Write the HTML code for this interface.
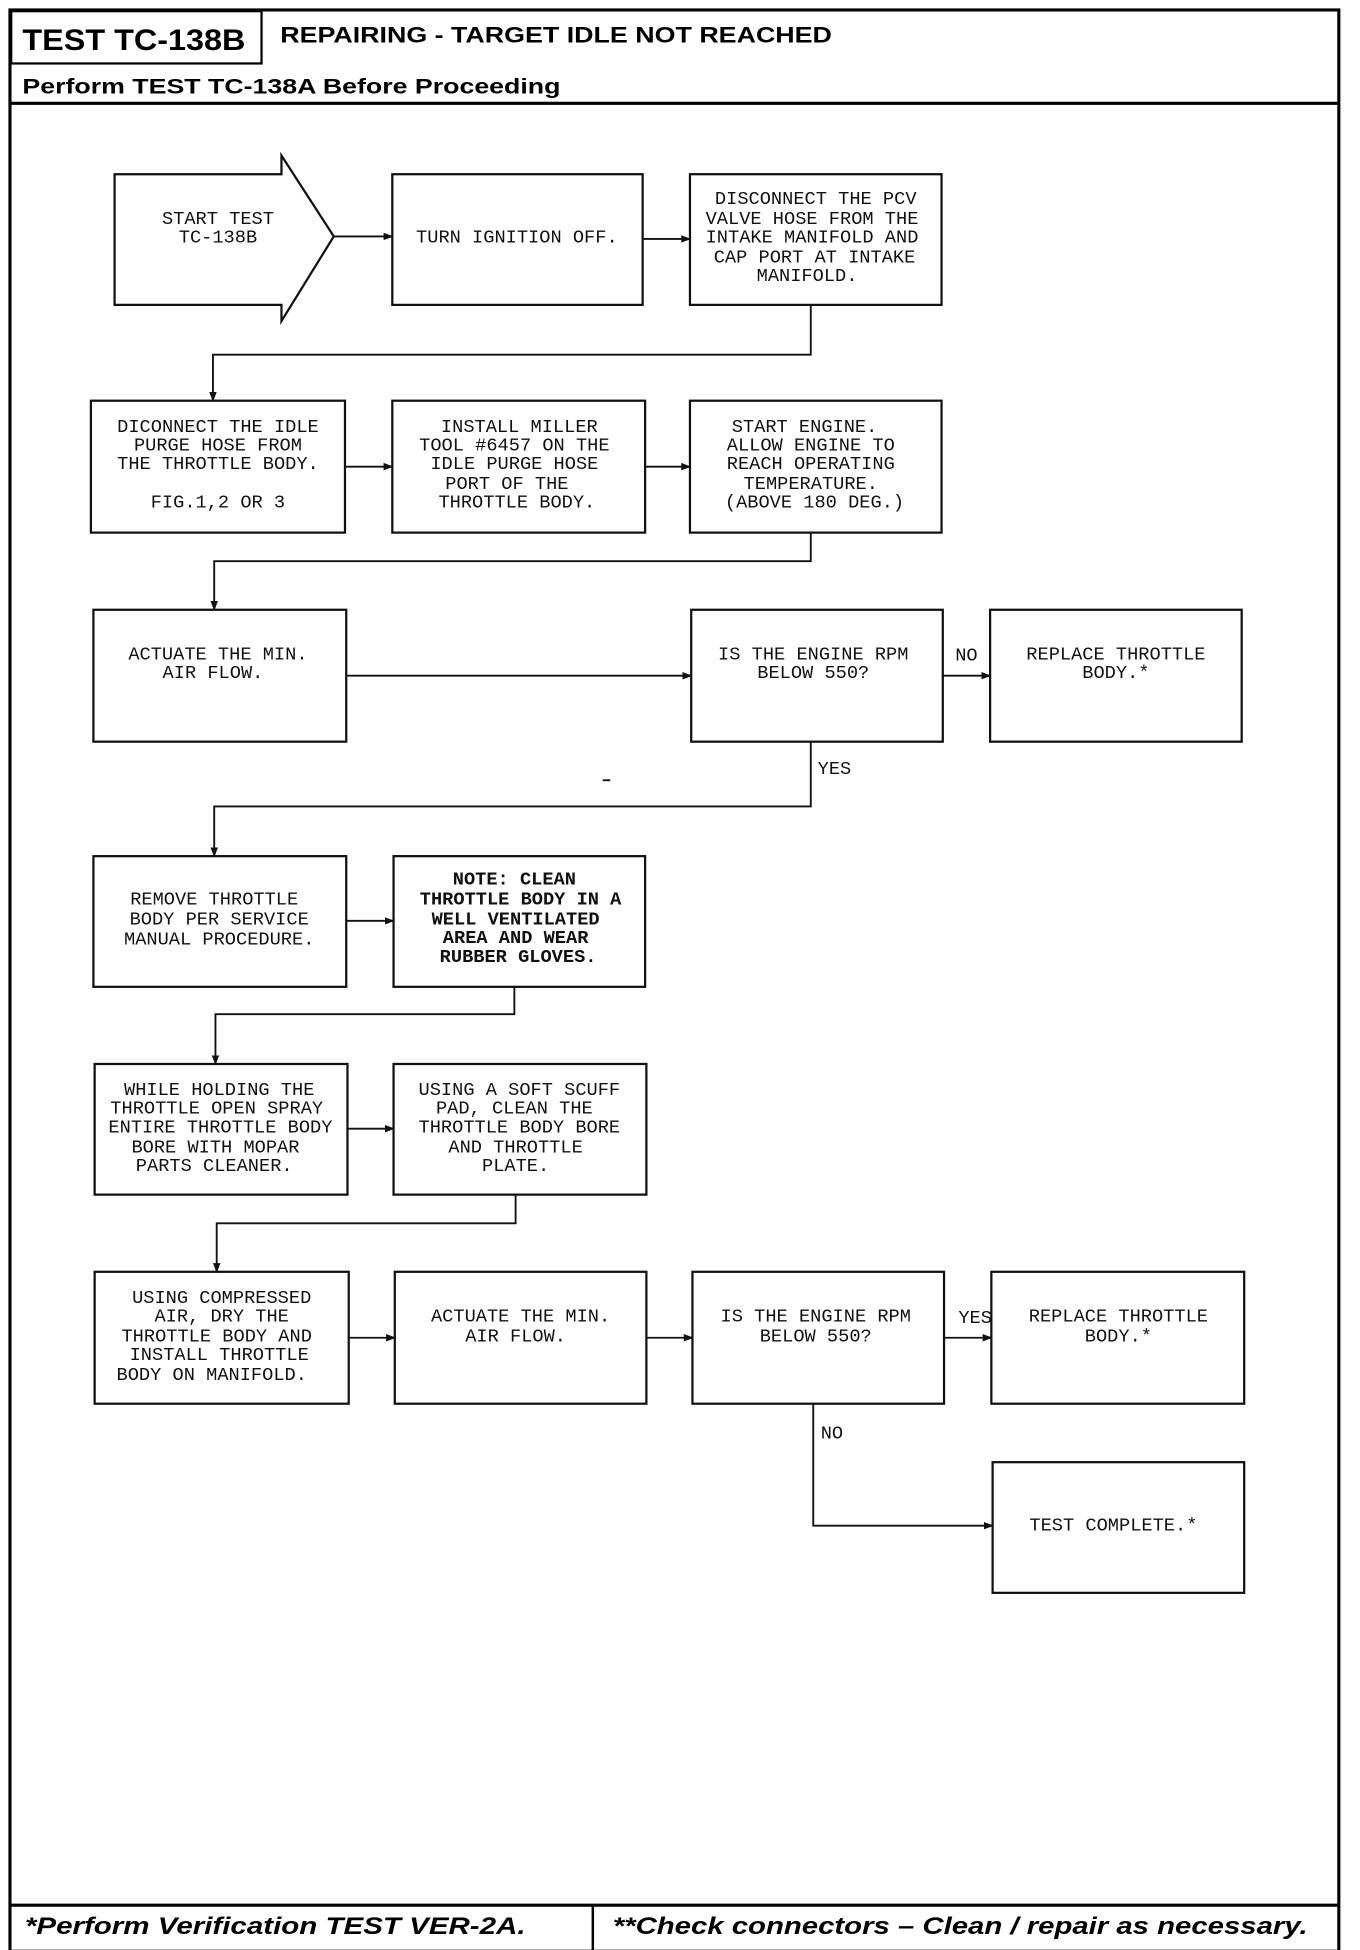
<!DOCTYPE html>
<html><head><meta charset="utf-8"><style>
html,body{margin:0;padding:0;background:#fff;}
svg{display:block;}
.t{font-family:"Liberation Mono",monospace;font-size:15px;fill:#111;text-anchor:middle;dominant-baseline:middle;}
.b{fill:none;stroke:#111;stroke-width:1.8;}
.l{fill:none;stroke:#111;stroke-width:1.5;}
.h{font-family:"Liberation Sans",sans-serif;font-weight:bold;fill:#000;}
</style></head><body>
<svg width="1360" height="1950" viewBox="0 0 1092 1567" preserveAspectRatio="none" xmlns="http://www.w3.org/2000/svg">
<defs><marker id="a" markerWidth="8" markerHeight="8" refX="7" refY="4" orient="auto" markerUnits="userSpaceOnUse"><path d="M0,1 L8,4 L0,7 z" fill="#111"/></marker></defs>
<rect x="8" y="8" width="1067" height="1560" fill="none" stroke="#000" stroke-width="2.5"/>
<rect x="9" y="9" width="201" height="42" fill="none" stroke="#000" stroke-width="1.8"/>
<line x1="8" y1="83" x2="1075" y2="83" stroke="#000" stroke-width="2.5"/>
<line x1="8" y1="1531" x2="1075" y2="1531" stroke="#000" stroke-width="2.5"/>
<line x1="476" y1="1531" x2="476" y2="1568" stroke="#000" stroke-width="2"/>
<text class="h" x="18" y="40" font-size="24" textLength="179" lengthAdjust="spacingAndGlyphs">TEST TC-138B</text>
<text class="h" x="225" y="34" font-size="18" textLength="443" lengthAdjust="spacingAndGlyphs">REPAIRING - TARGET IDLE NOT REACHED</text>
<text class="h" x="18" y="75" font-size="17" textLength="432" lengthAdjust="spacingAndGlyphs">Perform TEST TC-138A Before Proceeding</text>
<text class="h" x="20" y="1554" font-size="19" font-style="italic" textLength="402" lengthAdjust="spacingAndGlyphs">*Perform Verification TEST VER-2A.</text>
<text class="h" x="492" y="1554" font-size="19" font-style="italic" textLength="558" lengthAdjust="spacingAndGlyphs">**Check connectors – Clean / repair as necessary.</text>

<path class="b" d="M92,140 L226,140 L226,125 L268,190 L226,258 L226,245 L92,245 Z"/>
<text class="t" x="175" y="176">START TEST</text><text class="t" x="175" y="191">TC-138B</text>
<rect class="b" x="315" y="140" width="201" height="105"/>
<text class="t" x="415" y="191">TURN IGNITION OFF.</text>
<rect class="b" x="554" y="140" width="202" height="105"/>
<text class="t" x="655" y="160">DISCONNECT THE PCV</text><text class="t" x="652" y="176">VALVE HOSE FROM THE</text><text class="t" x="652" y="191">INTAKE MANIFOLD AND</text><text class="t" x="654" y="207">CAP PORT AT INTAKE</text><text class="t" x="648" y="222">MANIFOLD.</text>
<line class="l" x1="268" y1="190" x2="315" y2="190" marker-end="url(#a)"/>
<line class="l" x1="516" y1="192" x2="554" y2="192" marker-end="url(#a)"/>
<polyline class="l" points="651,245 651,285 171,285 171,322" marker-end="url(#a)"/>

<rect class="b" x="73" y="322" width="204" height="106"/>
<text class="t" x="175" y="343">DICONNECT THE IDLE</text><text class="t" x="175" y="358">PURGE HOSE FROM</text><text class="t" x="175" y="373">THE THROTTLE BODY.</text><text class="t" x="175" y="404">FIG.1,2 OR 3</text>
<rect class="b" x="315" y="322" width="203" height="106"/>
<text class="t" x="417" y="343">INSTALL MILLER</text><text class="t" x="413" y="358">TOOL #6457 ON THE</text><text class="t" x="413" y="373">IDLE PURGE HOSE</text><text class="t" x="407" y="389">PORT OF THE</text><text class="t" x="415" y="404">THROTTLE BODY.</text>
<rect class="b" x="554" y="322" width="202" height="106"/>
<text class="t" x="646" y="343">START ENGINE.</text><text class="t" x="651" y="358">ALLOW ENGINE TO</text><text class="t" x="651" y="373">REACH OPERATING</text><text class="t" x="651" y="389">TEMPERATURE.</text><text class="t" x="654" y="404">(ABOVE 180 DEG.)</text>
<line class="l" x1="277" y1="375" x2="315" y2="375" marker-end="url(#a)"/>
<line class="l" x1="518" y1="375" x2="554" y2="375" marker-end="url(#a)"/>
<polyline class="l" points="651,428 651,451 172,451 172,490" marker-end="url(#a)"/>

<rect class="b" x="75" y="490" width="203" height="106"/>
<text class="t" x="175" y="526">ACTUATE THE MIN.</text><text class="t" x="171" y="541">AIR FLOW.</text>
<rect class="b" x="555" y="490" width="202" height="106"/>
<text class="t" x="653" y="526">IS THE ENGINE RPM</text><text class="t" x="653" y="541">BELOW 550?</text>
<rect class="b" x="795" y="490" width="202" height="106"/>
<text class="t" x="896" y="526">REPLACE THROTTLE</text><text class="t" x="896" y="541">BODY.*</text>
<line class="l" x1="278" y1="543" x2="555" y2="543" marker-end="url(#a)"/>
<line class="l" x1="757" y1="543" x2="795" y2="543" marker-end="url(#a)"/>
<text class="t" x="776" y="527">NO</text>
<polyline class="l" points="651,596 651,648 172,648 172,688" marker-end="url(#a)"/>
<text class="t" x="670" y="618">YES</text>
<line x1="484" y1="627" x2="490" y2="627" stroke="#111" stroke-width="1.5"/>

<rect class="b" x="75" y="688" width="203" height="105"/>
<text class="t" x="172" y="723">REMOVE THROTTLE</text><text class="t" x="176" y="739">BODY PER SERVICE</text><text class="t" x="176" y="755">MANUAL PROCEDURE.</text>
<rect class="b" x="316" y="688" width="202" height="105"/>
<text class="t" x="413" y="707" font-weight="bold">NOTE: CLEAN</text><text class="t" x="418" y="723" font-weight="bold">THROTTLE BODY IN A</text><text class="t" x="414" y="739" font-weight="bold">WELL VENTILATED</text><text class="t" x="414" y="754" font-weight="bold">AREA AND WEAR</text><text class="t" x="416" y="769" font-weight="bold">RUBBER GLOVES.</text>
<line class="l" x1="278" y1="740" x2="316" y2="740" marker-end="url(#a)"/>
<polyline class="l" points="413,793 413,815 173,815 173,855" marker-end="url(#a)"/>

<rect class="b" x="76" y="855" width="203" height="105"/>
<text class="t" x="176" y="876">WHILE HOLDING THE</text><text class="t" x="174" y="891">THROTTLE OPEN SPRAY</text><text class="t" x="177" y="906">ENTIRE THROTTLE BODY</text><text class="t" x="173" y="922">BORE WITH MOPAR</text><text class="t" x="172" y="937">PARTS CLEANER.</text>
<rect class="b" x="316" y="855" width="203" height="105"/>
<text class="t" x="417" y="876">USING A SOFT SCUFF</text><text class="t" x="413" y="891">PAD, CLEAN THE</text><text class="t" x="417" y="906">THROTTLE BODY BORE</text><text class="t" x="414" y="922">AND THROTTLE</text><text class="t" x="414" y="937">PLATE.</text>
<line class="l" x1="279" y1="907" x2="316" y2="907" marker-end="url(#a)"/>
<polyline class="l" points="414,960 414,983 174,983 174,1022" marker-end="url(#a)"/>

<rect class="b" x="76" y="1022" width="204" height="106"/>
<text class="t" x="178" y="1043">USING COMPRESSED</text><text class="t" x="178" y="1058">AIR, DRY THE</text><text class="t" x="174" y="1074">THROTTLE BODY AND</text><text class="t" x="176" y="1089">INSTALL THROTTLE</text><text class="t" x="170" y="1105">BODY ON MANIFOLD.</text>
<rect class="b" x="317" y="1022" width="202" height="106"/>
<text class="t" x="418" y="1058">ACTUATE THE MIN.</text><text class="t" x="414" y="1074">AIR FLOW.</text>
<rect class="b" x="556" y="1022" width="202" height="106"/>
<text class="t" x="655" y="1058">IS THE ENGINE RPM</text><text class="t" x="655" y="1074">BELOW 550?</text>
<rect class="b" x="796" y="1022" width="203" height="106"/>
<text class="t" x="898" y="1058">REPLACE THROTTLE</text><text class="t" x="898" y="1074">BODY.*</text>
<line class="l" x1="280" y1="1075" x2="317" y2="1075" marker-end="url(#a)"/>
<line class="l" x1="519" y1="1075" x2="556" y2="1075" marker-end="url(#a)"/>
<line class="l" x1="758" y1="1075" x2="796" y2="1075" marker-end="url(#a)"/>
<text class="t" x="783" y="1059">YES</text>
<polyline class="l" points="653,1128 653,1226 797,1226" marker-end="url(#a)"/>
<text class="t" x="668" y="1152">NO</text>
<rect class="b" x="797" y="1175" width="202" height="105"/>
<text class="t" x="894" y="1226">TEST COMPLETE.*</text>
</svg>
</body></html>
